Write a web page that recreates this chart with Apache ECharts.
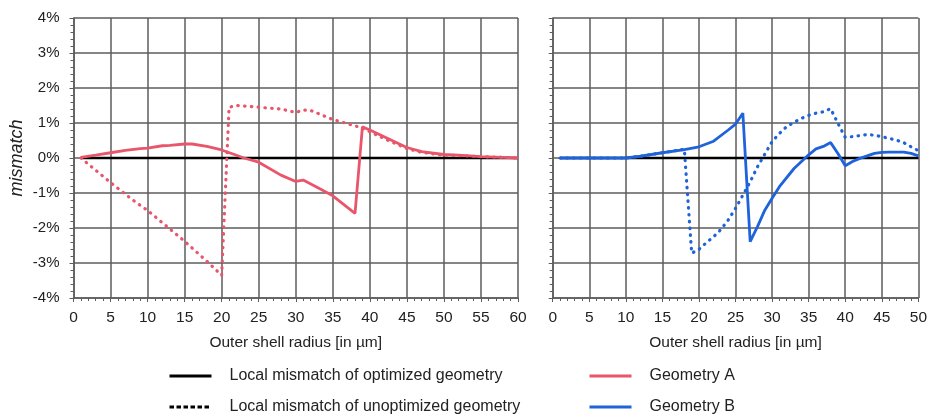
<!DOCTYPE html>
<html><head><meta charset="utf-8">
<script src="https://cdn.jsdelivr.net/npm/echarts@6/dist/echarts.min.js"></script>
<style>html,body{margin:0;padding:0;background:#fff}#c{width:930px;height:419px}</style>
</head><body><div id="c"></div>
<script>
// ---- data (x: outer shell radius in µm, y: mismatch in %) ----
const yTicks = ['-4%','-3%','-2%','-1%','0%','1%','2%','3%','4%'];
const xAxisTitle = 'Outer shell radius [in µm]';
const yAxisTitle = 'mismatch';

const optimizedZeroA = [[1,0],[60,0]];
const optimizedZeroB = [[1,0],[50,0]];

const geomA_opt = [[1,0.02],[3,0.08],[5,0.15],[7,0.22],[9,0.27],[10,0.28],[12,0.35],[13,0.36],[15,0.40],[16,0.40],[18,0.33],[20,0.23],[22,0.08],[23,0.0],[25,-0.12],[28,-0.49],[30,-0.67],[31,-0.63],[33,-0.85],[35,-1.08],[38,-1.58],[39,0.89],[40,0.80],[42,0.60],[45,0.30],[47,0.18],[50,0.10],[52,0.08],[55,0.04],[58,0.02],[60,0.0]];
const geomA_unopt = [[1,0],[3,-0.35],[5,-0.70],[8,-1.20],[10,-1.50],[12,-1.85],[15,-2.38],[18,-2.95],[20,-3.35],[21,1.45],[22,1.50],[25,1.45],[28,1.40],[30,1.30],[31,1.37],[32,1.36],[35,1.10],[38,0.92],[39,0.85],[40,0.75],[42,0.55],[45,0.27],[47,0.16],[50,0.08],[52,0.07],[55,0.04],[58,0.02],[60,0.0]];

const geomB_opt = [[1,0],[10,0],[12,0.05],[15,0.15],[18,0.24],[20,0.32],[22,0.48],[24,0.80],[25,0.97],[26,1.28],[27,-2.39],[28,-1.96],[29,-1.49],[30,-1.15],[31,-0.82],[33,-0.30],[35,0.09],[36,0.26],[37,0.33],[38,0.44],[39,0.13],[40,-0.22],[41,-0.10],[42,-0.01],[43,0.06],[44,0.13],[45,0.16],[46,0.17],[48,0.17],[49,0.13],[50,0.06]];
const geomB_unopt = [[1,0],[10,0],[12,0.05],[15,0.15],[18,0.25],[19,-2.72],[20,-2.61],[21,-2.42],[22,-2.25],[23,-2.04],[24,-1.77],[25,-1.44],[26,-1.06],[27,-0.68],[28,-0.25],[29,0.11],[30,0.47],[31,0.70],[32,0.90],[33,1.02],[34,1.13],[35,1.22],[36,1.28],[37,1.32],[38,1.41],[39,0.99],[40,0.59],[41,0.61],[42,0.64],[43,0.67],[44,0.65],[45,0.61],[46,0.56],[47,0.51],[48,0.44],[49,0.32],[50,0.21]];

const legendNames = ['Local mismatch of optimized geometry','Local mismatch of unoptimized geometry','Geometry A','Geometry B'];

// ---- styling ----
const RED = '#E9566B';
const BLUE = '#1F63DA';
const GRIDC = '#5c5c5c';
const TXT = '#222';
const FONT = 'Liberation Sans, Arial, sans-serif';

function xAx(idx, max) {
  return {
    type: 'value', gridIndex: idx, min: 0, max: max, interval: 5,
    name: xAxisTitle, nameLocation: 'middle', nameGap: 37,
    nameTextStyle: {fontSize: 15.5, color: TXT, fontFamily: FONT},
    axisLine: {show: true, onZero: false, lineStyle: {color: GRIDC, width: 1.5}},
    axisTick: {show: true, length: 4, lineStyle: {color: GRIDC}},
    minorTick: {show: true, splitNumber: 5, length: 3, lineStyle: {color: GRIDC}},
    axisLabel: {fontSize: 15.5, color: TXT, fontFamily: FONT, margin: 12},
    splitLine: {show: true, lineStyle: {color: GRIDC, width: 1.5}}
  };
}
function yAx(idx, showLabel) {
  return {
    type: 'value', gridIndex: idx, min: -4, max: 4, interval: 1,
    name: showLabel ? yAxisTitle : '', nameLocation: 'middle', nameGap: 48,
    nameTextStyle: {fontSize: 18, fontStyle: 'italic', color: TXT, fontFamily: FONT},
    axisLine: {show: true, lineStyle: {color: GRIDC, width: 1.5}},
    axisTick: {show: true, length: 4, lineStyle: {color: GRIDC}},
    minorTick: {show: true, splitNumber: 5, length: 3, lineStyle: {color: GRIDC}},
    axisLabel: {show: showLabel, fontSize: 15, color: TXT, fontFamily: FONT, margin: 14,
      formatter: v => yTicks[Math.round(v) + 4]},
    splitLine: {show: true, lineStyle: {color: GRIDC, width: 1.5}}
  };
}
const dotStyle = (c) => ({color: c, width: 3.2, type: [0.5, 6.3], cap: 'round'});
const solidStyle = (c) => ({color: c, width: 2.8});

function line(name, data, gi, style, z) {
  return {type: 'line', name: name, xAxisIndex: gi, yAxisIndex: gi, data: data,
    symbol: 'none', lineStyle: style, itemStyle: {color: style.color}, z: z, animation: false, silent: true};
}

const series = [
  line(legendNames[0], optimizedZeroA, 0, {color: '#000', width: 2.6}, 3),
  line(legendNames[0], optimizedZeroB, 1, {color: '#000', width: 2.6}, 3),
  line(legendNames[1], [], 0, {color: '#000', width: 2.6, type: [4.5, 2.5]}, 3),
  line('Geometry A unoptimized', geomA_unopt, 0, dotStyle(RED), 4),
  line(legendNames[2], geomA_opt, 0, solidStyle(RED), 5),
  line('Geometry B unoptimized', geomB_unopt, 1, dotStyle(BLUE), 4),
  line(legendNames[3], geomB_opt, 1, solidStyle(BLUE), 5)
];

function leg(name, left, top) {
  return {data: [name], left: left, top: top, padding: 0, itemWidth: 42, itemHeight: 16,
    itemGap: 0, selectedMode: false,
    itemStyle: {opacity: 0},
    lineStyle: {width: 3},
    textStyle: {fontSize: 16, color: TXT, fontFamily: FONT, padding: [0, 0, 0, 13]}};
}

const chart = echarts.init(document.getElementById('c'), null, {renderer: 'canvas'});
chart.setOption({
  backgroundColor: '#fff',
  animation: false,
  grid: [
    {left: 73.5, top: 18, width: 444.5, height: 280, containLabel: false},
    {left: 552.7, top: 18, width: 368, height: 280, containLabel: false}
  ],
  xAxis: [xAx(0, 60), xAx(1, 50)],
  yAxis: [yAx(0, true), yAx(1, false)],
  legend: [
    leg(legendNames[0], 168, 368),
    leg(legendNames[1], 168, 399),
    leg(legendNames[2], 588, 368),
    leg(legendNames[3], 588, 399)
  ],
  series: series
});
</script></body></html>
